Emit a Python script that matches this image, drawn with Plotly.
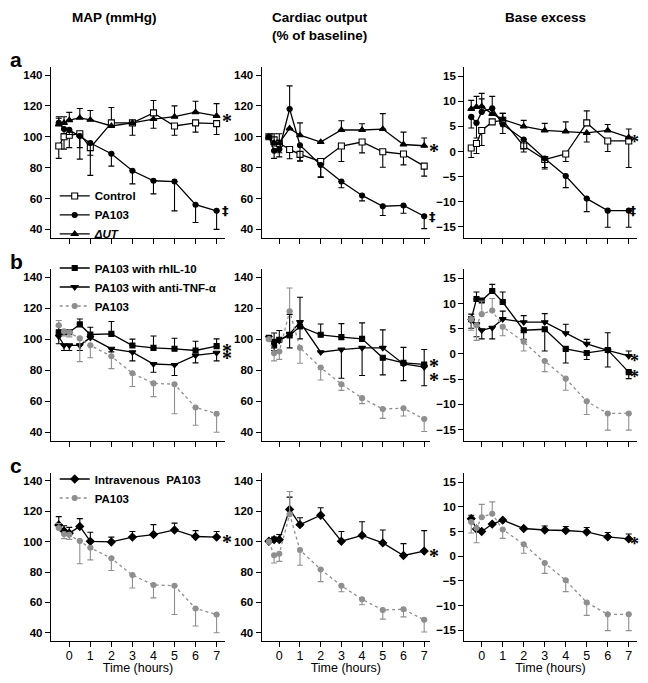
import plotly.graph_objects as go
from plotly.subplots import make_subplots

# sampling times (hours), shared by every series
hours = [-0.5, -0.25, 0, 0.5, 1, 2, 3, 4, 5, 6, 7]

# error bars: + means bar drawn upward, - means drawn downward, 0 none
# --- PA103 (same group in all rows)
pa103_map = [109, 105, 104.5, 100.5, 96, 89, 78, 71.5, 71, 56, 52]
pa103_map_err = [3, -3, -3, -15, -8, -8, -8.5, -8.5, -19, -11.5, -12]
pa103_co = [100, 91, 92, 118, 94.5, 81.7, 71, 62, 55, 55.5, 48.5]
pa103_co_err = [0, -5, -5, 15, -10, -8, -4, -3.5, -6, -5, -8]
pa103_be = [6.9, 5.7, 7.9, 8.6, 5.4, 2.4, -1.4, -4.9, -9.4, -11.8, -11.8]
pa103_be_err = [-2.2, -3, 2.6, 2.4, -1.8, -1.8, -2.1, -2.3, -2.6, -3.3, -3.3]

# --- row a
control_map = [94, 100, 101, 102, 93, 109, 109, 115.5, 107, 109, 108.5]
control_map_err = [-8, -8, -8, -9, -18, 10, -8, 8, -6, -6, -7]
control_co = [100, 98, 95.7, 91.8, 88.6, 84, 94, 96.6, 90.3, 88.8, 81]
control_co_err = [0, -4, -6, -6, -4.5, -10, -10, -7, -10, -7, -6.5]
control_be = [0.7, 1.6, 4.2, 5.9, 6.2, 1.1, -1.6, -0.5, 5.7, 2.1, 2.1]
control_be_err = [-1.9, -2, -3, 0, 1.4, -1.2, -1.6, -1.5, 2.4, -2.1, -5.3]

dut_map = [108, 109, 110.8, 112.3, 111, 107, 109, 111.5, 113, 116, 113.5]
dut_map_err = [5, 4, 5, 6, 6, 0, 0, -6, 7, 7, 8]
dut_co = [100, 96, 96, 105.4, 101, 96.6, 104.4, 104.4, 105, 95, 94.2]
dut_co_err = [0, 6, 6, 0, 8, 0, 6, 4, 10, 8, 5]
dut_be = [8.5, 8.9, 9.0, 7.5, 6.4, 5.0, 4.2, 4.0, 3.7, 4.2, 2.8]
dut_be_err = [1.7, 2.1, 2.6, 0, 1.2, 1.2, 1.4, 1.9, -1.8, 1.2, 1.7]

# --- row b
il10_map = [104.5, 104.5, 104.5, 109.5, 103, 103.4, 95.9, 94.4, 93.8, 92.7, 95.5]
il10_map_err = [4, 0, 0, 3.5, 4.7, 8, 4.1, 7.6, 6.8, 6, 4.7]
il10_co = [100.9, 96, 99.6, 102.4, 108.2, 102.8, 101.3, 100.2, 88, 84.7, 83.7]
il10_co_err = [0, -3.3, 6, -8, -8, 7, 8.7, 10.3, -11, 10, 9.6]
il10_be = [6.9, 10.9, 10.6, 12.5, 10.3, 4.7, 4.9, 1.0, 0.2, 0.8, -3.6]
il10_be_err = [1, 1.4, 0, 1.3, 2, -1.8, -4.3, -2.8, -1.3, -3.4, -1.3]

tnf_map = [101.7, 96, 96, 96, 101, 93.8, 91.6, 84, 83.4, 89.5, 91.2]
tnf_map_err = [-4.7, -3.3, -3.3, -3.3, 0, -2, -5.6, -5.3, -6.8, -4.8, -5.2]
tnf_co = [100.9, 99, 99, 103.4, 111, 91.6, 93.3, 94.4, 94.4, 84, 82]
tnf_co_err = [0, 5, 0, 12.6, 16, 0, -18.5, -17.8, 11.6, -10.7, -12]
tnf_be = [6.6, 5.9, 4.7, 5.2, 6.9, 6.3, 6.3, 4.1, 2.0, 0.7, -0.4]
tnf_be_err = [-1.5, -2.5, -1.7, -2.2, 1.6, 1.3, 1.7, 1.8, 0.9, 3.5, 1.0]

# --- row c
iv_map = [111, 107, 105.6, 110, 100.2, 99.8, 103, 104.7, 107.7, 103.4, 103]
iv_map_err = [5.5, 3.5, 3.8, 5.2, 6, 3.2, 3.7, 6.5, 4.5, 3.9, 3.7]
iv_co = [100.3, 101.3, 101.3, 121.2, 111.2, 117.4, 100.3, 104.1, 99.2, 90.9, 93.8]
iv_co_err = [0, 1.7, 3.4, 8.1, 4.6, 4.9, 6.4, 9, 8.5, 7.8, 13.5]
iv_be = [7.6, 5.5, 5.0, 6.5, 7.3, 5.6, 5.3, 5.2, 4.9, 3.9, 3.5]
iv_be_err = [0.7, 0, 0, 0, 0, 0, 0.8, 0.8, 0.9, 0.9, 1.0]

col_titles = ['MAP (mmHg)', 'Cardiac output<br>(% of baseline)', 'Base excess']
row_letters = ['a', 'b', 'c']

FONT = 'Liberation Sans, Arial, sans-serif'
GRAY = '#8f8f8f'

fig = make_subplots(rows=3, cols=3)


def add_series(row, col, y, err, name, symbol, color='black', fill=None,
               dash='solid', legend='legend', show=False, size=6):
    up = [e if e > 0 else 0 for e in err]
    down = [-e if e < 0 else 0 for e in err]
    fig.add_trace(go.Scatter(
        x=hours, y=y, mode='lines+markers', name=name,
        line=dict(color=color, width=1.3, dash=dash),
        marker=dict(symbol=symbol, size=size, color=fill or color,
                    line=dict(color=color, width=1.1)),
        error_y=dict(type='data', symmetric=False, array=up, arrayminus=down,
                     color=color, thickness=1.1, width=3),
        legend=legend, showlegend=show), row=row, col=col)


# row a
for col, (c, cerr, p, perr, d, derr) in enumerate([
        (control_map, control_map_err, pa103_map, pa103_map_err, dut_map, dut_map_err),
        (control_co, control_co_err, pa103_co, pa103_co_err, dut_co, dut_co_err),
        (control_be, control_be_err, pa103_be, pa103_be_err, dut_be, dut_be_err)], start=1):
    show = col == 1
    add_series(1, col, c, cerr, 'Control', 'square', fill='white', show=show)
    add_series(1, col, p, perr, 'PA103', 'circle', show=show, size=5)
    add_series(1, col, d, derr, '<i>\u0394UT</i>', 'triangle-up', show=show)

# row b
for col, (a, aerr, t, terr, p, perr) in enumerate([
        (il10_map, il10_map_err, tnf_map, tnf_map_err, pa103_map, pa103_map_err),
        (il10_co, il10_co_err, tnf_co, tnf_co_err, pa103_co, pa103_co_err),
        (il10_be, il10_be_err, tnf_be, tnf_be_err, pa103_be, pa103_be_err)], start=1):
    show = col == 1
    add_series(2, col, a, aerr, 'PA103 with rhIL-10', 'square', legend='legend2', show=show, size=5)
    add_series(2, col, t, terr, 'PA103 with anti-TNF-\u03b1', 'triangle-down', legend='legend2', show=show)
    add_series(2, col, p, perr, 'PA103', 'circle', color=GRAY, dash='dot', legend='legend2', show=show, size=5)

# row c
for col, (v, verr, p, perr) in enumerate([
        (iv_map, iv_map_err, pa103_map, pa103_map_err),
        (iv_co, iv_co_err, pa103_co, pa103_co_err),
        (iv_be, iv_be_err, pa103_be, pa103_be_err)], start=1):
    show = col == 1
    add_series(3, col, v, verr, 'Intravenous  PA103', 'diamond', legend='legend3', show=show)
    add_series(3, col, p, perr, 'PA103', 'circle', color=GRAY, dash='dot', legend='legend3', show=show, size=5)

# figure sized to fit inside the page's 8px body margin (no scrollbars)
col_dom = [(0.0680, 0.3434), (0.4014, 0.6677), (0.7220, 0.9948)]
row_dom = [(0.6556, 0.9115), (0.3513, 0.6087), (0.0510, 0.3028)]
x_ranges = [[-0.87, 7.4], [-0.85, 7.28], [-0.83, 7.38]]

axis_style = dict(showline=True, linecolor='black', linewidth=1.3, ticks='outside',
                  ticklen=5, tickwidth=1.3, tickcolor='black', showgrid=False,
                  zeroline=False)

for r in range(1, 4):
    for c in range(1, 4):
        fig.update_xaxes(domain=col_dom[c - 1], range=x_ranges[c - 1],
                         tickvals=list(range(0, 8)), showticklabels=(r == 3),
                         ticklabelstandoff=-2,
                         tickfont=dict(family=FONT, size=12.5, color='black'),
                         title=dict(text='Time (hours)' if r == 3 else '',
                                    font=dict(family=FONT, size=12.5, color='black'),
                                    standoff=0),
                         row=r, col=c, **axis_style)
        if c == 3:
            yr, yt = [-17.2, 16.85], [-15, -10, -5, 0, 5, 10, 15]
        else:
            yr, yt = [34.6, 145.2], [40, 60, 80, 100, 120, 140]
        fig.update_yaxes(domain=row_dom[r - 1], range=yr, tickvals=yt,
                         tickfont=dict(family=FONT, size=11.5, color='black', weight='bold'),
                         row=r, col=c, **axis_style)

annotations = []
# column titles
title_x = [0.1693, 0.4937, 0.8497]
for c, t in enumerate(col_titles):
    annotations.append(dict(text=t, xref='paper', yref='paper', x=title_x[c],
                            y=1.0, xanchor='center', yanchor='top', showarrow=False,
                            font=dict(family=FONT, size=13.5, color='black', weight='bold')))
# row letters
letter_y = [0.9235, 0.6192, 0.3148]
for r, t in enumerate(row_letters):
    annotations.append(dict(text=t, xref='paper', yref='paper', x=0.0,
                            y=letter_y[r], xanchor='left', yanchor='middle',
                            showarrow=False,
                            font=dict(family=FONT, size=21, color='black', weight='bold')))

# significance marks next to last point
marks = [
    (1, 1, dut_map[-1], '*'), (1, 1, pa103_map[-1], '\u2021'),
    (1, 2, dut_co[-1], '*'), (1, 2, pa103_co[-1], '\u2021'),
    (1, 3, dut_be[-1], '*'), (1, 3, pa103_be[-1], '\u2021'),
    (2, 1, il10_map[-1], '*'), (2, 1, tnf_map[-1], '*'),
    (2, 2, il10_co[-1] + 2.5, '*'), (2, 2, tnf_co[-1] - 5, '*'),
    (2, 3, tnf_be[-1], '*'), (2, 3, il10_be[-1], '*'),
    (3, 1, iv_map[-1], '*'), (3, 2, iv_co[-1], '*'), (3, 3, iv_be[-1], '*'),
]
for r, c, y, t in marks:
    idx = (r - 1) * 3 + c
    ax = '' if idx == 1 else str(idx)
    star = t == '*'
    edge = c == 3  # last column sits against the right edge of the figure
    if star:
        size = 18 if edge else 20
    else:
        size = 12 if edge else 13
    annotations.append(dict(text=t, xref='x' + ax, yref='y' + ax, x=7, y=y,
                            xanchor='left', yanchor='middle', xshift=0 if edge else 4,
                            yshift=-5 if star else 0, showarrow=False, borderpad=0,
                            font=dict(family='Liberation Serif, serif' if star else 'DejaVu Sans, sans-serif',
                                      weight='bold', size=size, color='black')))

legend_style = dict(bgcolor='rgba(0,0,0,0)', borderwidth=0, xanchor='left',
                    yanchor='middle', itemclick=False,
                    font=dict(family=FONT, size=11.5, color='black', weight='bold'))

fig.update_layout(
    width=632, height=667,
    margin=dict(l=0, r=0, t=0, b=0),
    paper_bgcolor='white', plot_bgcolor='white',
    font=dict(family=FONT, color='black'),
    annotations=annotations,
    legend=dict(x=0.0739, y=0.6897, **legend_style),
    legend2=dict(x=0.0739, y=0.5817, **legend_style),
    legend3=dict(x=0.0739, y=0.2796, **legend_style),
)

fig.write_html("out.html")
